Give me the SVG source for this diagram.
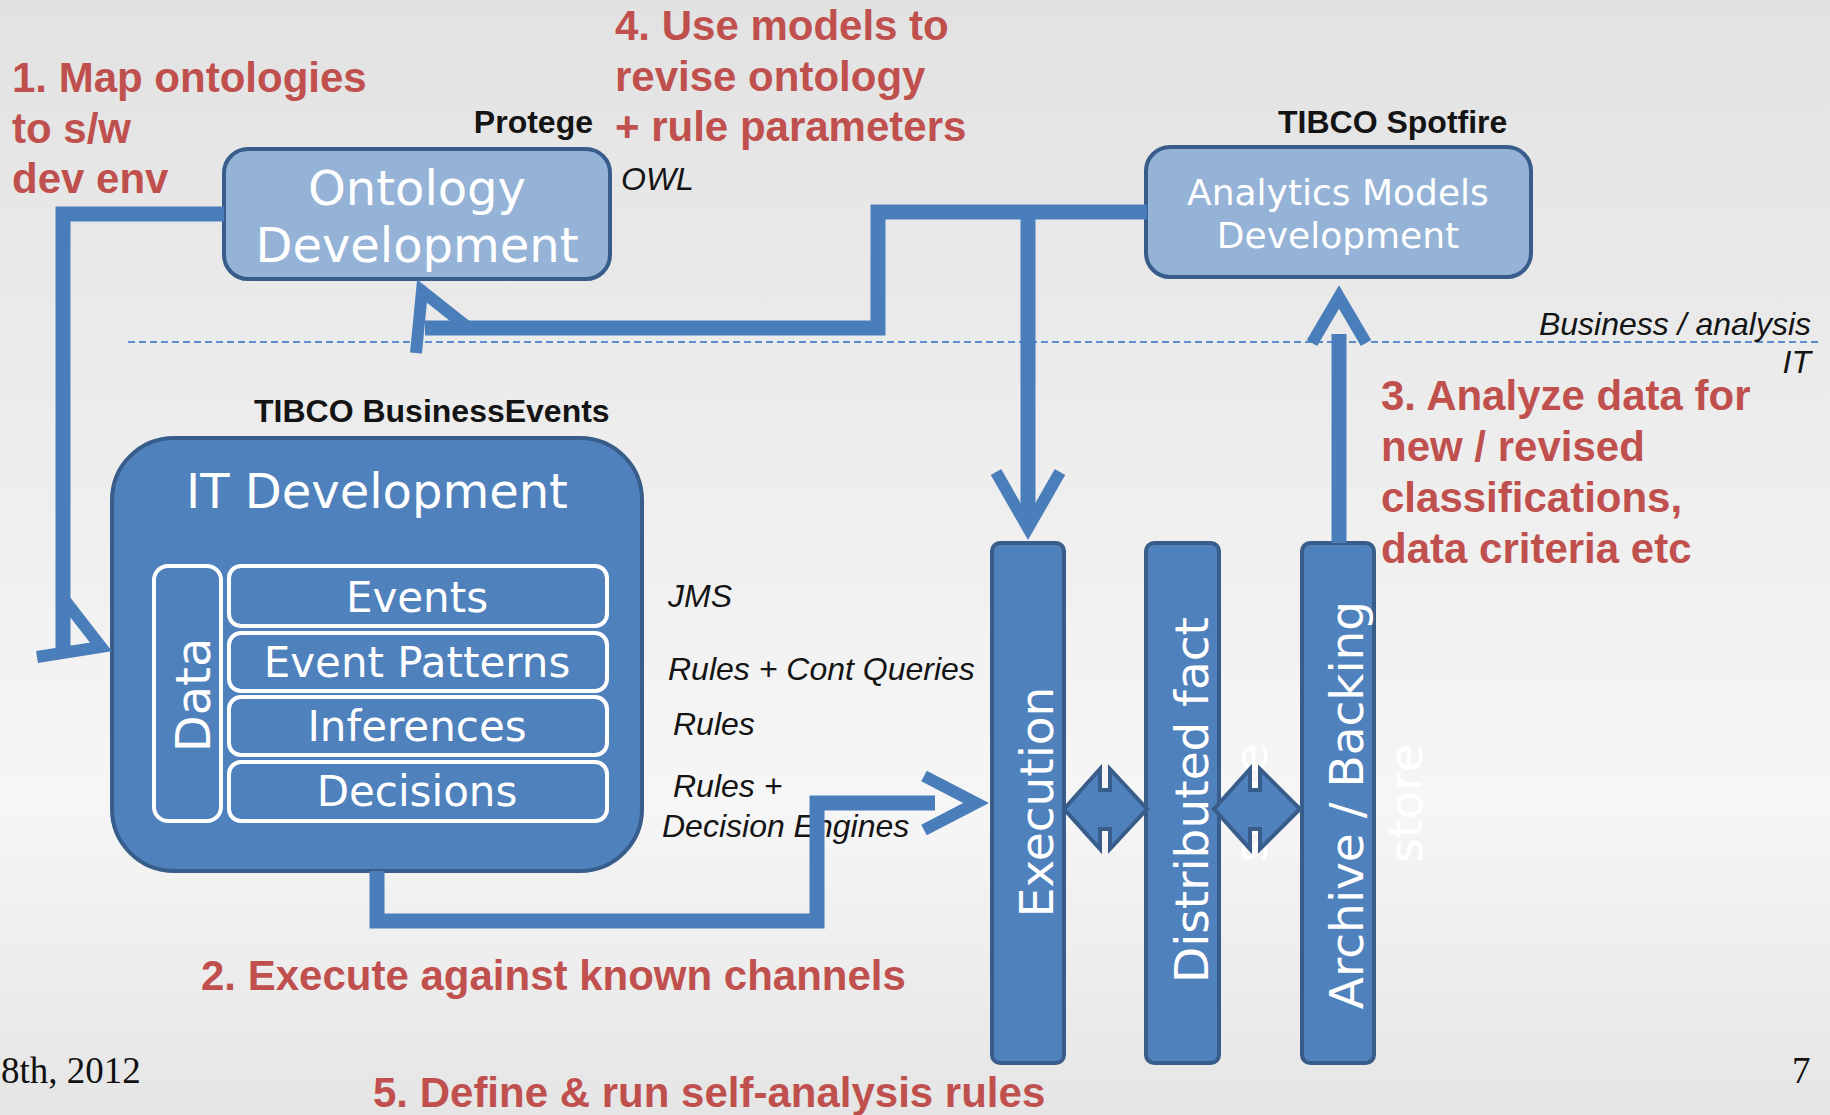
<svg xmlns="http://www.w3.org/2000/svg" width="1830" height="1115" viewBox="0 0 1830 1115">
<defs>
<linearGradient id="bg" x1="0" y1="0" x2="0" y2="1">
<stop offset="0" stop-color="#e2e2e2"/>
<stop offset="0.72" stop-color="#f6f6f6"/>
<stop offset="1" stop-color="#e5e5e5"/>
</linearGradient>
<style>
.red{font-family:"Liberation Sans",Arial,sans-serif;font-weight:bold;font-size:42px;fill:#c0504d}
.lbl{font-family:"Liberation Sans",Arial,sans-serif;font-weight:bold;font-size:32px;fill:#141414}
.it{font-family:"Liberation Sans",Arial,sans-serif;font-style:italic;font-size:32px;fill:#141414}
.wt{font-family:"DejaVu Sans",Verdana,sans-serif;fill:#ffffff}
.lightbox{fill:#95b3d7;stroke:#385d8a;stroke-width:4}
.darkbox{fill:#4f81bd;stroke:#385d8a;stroke-width:4}
.inner{fill:#4f81bd;stroke:#ffffff;stroke-width:4}
.conn{fill:none;stroke:#4a7ebb;stroke-width:15;stroke-linejoin:miter;stroke-linecap:butt}
.head{fill:none;stroke:#4a7ebb;stroke-width:12;stroke-linejoin:miter;stroke-miterlimit:10;stroke-linecap:butt}
.blk{fill:#4f81bd;stroke:#385d8a;stroke-width:4;stroke-linejoin:miter}
.foot{font-family:"Liberation Serif","Times New Roman",serif;font-size:37px;fill:#111111}
</style>
</defs>
<rect x="0" y="0" width="1830" height="1115" fill="url(#bg)"/>

<line id="divider" x1="128" y1="342" x2="1822" y2="342" stroke="#5b8ccc" stroke-width="2" stroke-dasharray="7 4"/>

<g id="labels">
<text class="red" x="12" y="92">1. Map ontologies</text>
<text class="red" x="12" y="143">to s/w</text>
<text class="red" x="12" y="193">dev env</text>
<text class="red" x="615" y="40">4. Use models to</text>
<text class="red" x="615" y="91">revise ontology</text>
<text class="red" x="615" y="141">+ rule parameters</text>
<text class="red" x="1381" y="410">3. Analyze data for</text>
<text class="red" x="1381" y="461">new / revised</text>
<text class="red" x="1381" y="512">classifications,</text>
<text class="red" x="1381" y="563">data criteria etc</text>
<text class="red" x="201" y="990">2. Execute against known channels</text>
<text class="red" x="373" y="1107">5. Define &amp; run self-analysis rules</text>
<text class="lbl" x="593" y="133" text-anchor="end">Protege</text>
<text class="lbl" x="1278" y="133">TIBCO Spotfire</text>
<text class="lbl" x="254" y="422">TIBCO BusinessEvents</text>
<text class="it" x="621" y="190">OWL</text>
<text class="it" x="1811" y="335" text-anchor="end">Business / analysis</text>
<text class="it" x="1811" y="373" text-anchor="end">IT</text>
<text class="it" x="668" y="607">JMS</text>
<text class="it" x="668" y="680">Rules + Cont Queries</text>
<text class="it" x="673" y="735">Rules</text>
<text class="it" x="673" y="797">Rules +</text>
<text class="it" x="662" y="837">Decision Engines</text>
<text class="foot" x="1" y="1083">8th, 2012</text>
<text class="foot" x="1792" y="1083">7</text>
</g>

<g id="ontology">
<rect class="lightbox" x="224" y="149" width="386" height="130" rx="24"/>
<text class="wt" font-size="48" text-anchor="middle" x="417" y="205">Ontology</text>
<text class="wt" font-size="48" text-anchor="middle" x="417" y="262">Development</text>
</g>

<g id="analytics">
<rect class="lightbox" x="1146" y="147" width="385" height="130" rx="24"/>
<text class="wt" font-size="36" text-anchor="middle" x="1338" y="205">Analytics Models</text>
<text class="wt" font-size="36" text-anchor="middle" x="1338" y="248">Development</text>
</g>

<g id="it-development">
<rect class="darkbox" x="112" y="438" width="530" height="433" rx="62"/>
<text class="wt" font-size="48" text-anchor="middle" x="377" y="508">IT Development</text>
<rect class="inner" x="154" y="566" width="67" height="255" rx="14"/>
<text class="wt" font-size="48" text-anchor="middle" transform="translate(210,695) rotate(-90)">Data</text>
<rect class="inner" x="229" y="566" width="378" height="60" rx="12"/>
<rect class="inner" x="229" y="633" width="378" height="58" rx="12"/>
<rect class="inner" x="229" y="697" width="378" height="58" rx="12"/>
<rect class="inner" x="229" y="762" width="378" height="59" rx="12"/>
<text class="wt" font-size="42" text-anchor="middle" x="417" y="612">Events</text>
<text class="wt" font-size="42" text-anchor="middle" x="417" y="677">Event Patterns</text>
<text class="wt" font-size="42" text-anchor="middle" x="417" y="741">Inferences</text>
<text class="wt" font-size="42" text-anchor="middle" x="417" y="806">Decisions</text>
</g>

<g id="execution">
<rect class="darkbox" x="992" y="543" width="72" height="520" rx="8"/>
<text class="wt" font-size="47" text-anchor="middle" transform="translate(1053,802) rotate(-90)">Execution</text>
</g>

<g id="distributed">
<rect class="darkbox" x="1146" y="543" width="73" height="520" rx="8"/>
<text class="wt" font-size="47" text-anchor="middle" transform="translate(1208,800) rotate(-90)">Distributed fact</text>
<text class="wt" font-size="47" text-anchor="middle" transform="translate(1267,803) rotate(-90)">store</text>
</g>

<g id="archive">
<rect class="darkbox" x="1302" y="543" width="72" height="520" rx="8"/>
<text class="wt" font-size="47" text-anchor="middle" transform="translate(1363,805) rotate(-90)">Archive / Backing</text>
<text class="wt" font-size="47" text-anchor="middle" transform="translate(1422,803) rotate(-90)">store</text>
</g>

<g id="connectors">
<path class="conn" d="M224 214 H63 V650"/>
<path class="head" d="M63 598 L101 647 L37 657"/>
<path class="conn" d="M1147 212 H878 V328 H425"/>
<path class="head" d="M466 326 L422 291 L416 353"/>
<path class="conn" d="M1028 212 V525"/>
<path class="head" d="M996 472 L1028 528 L1060 472"/>
<path class="conn" d="M1339 334 V543"/>
<path class="head" d="M1312 343 L1339 297 L1366 343"/>
<path class="conn" d="M377 871 V921 H817 V803 H935"/>
<path class="head" d="M924 776 L976 803 L924 830"/>
<path class="blk" d="M1064 809 L1100 769 V790 H1110 V769 L1147 809 L1110 849 V829 H1100 V849 Z"/>
<path class="blk" d="M1214 809 L1250 769 V790 H1260 V769 L1300 809 L1260 849 V829 H1250 V849 Z"/>
</g>
</svg>
